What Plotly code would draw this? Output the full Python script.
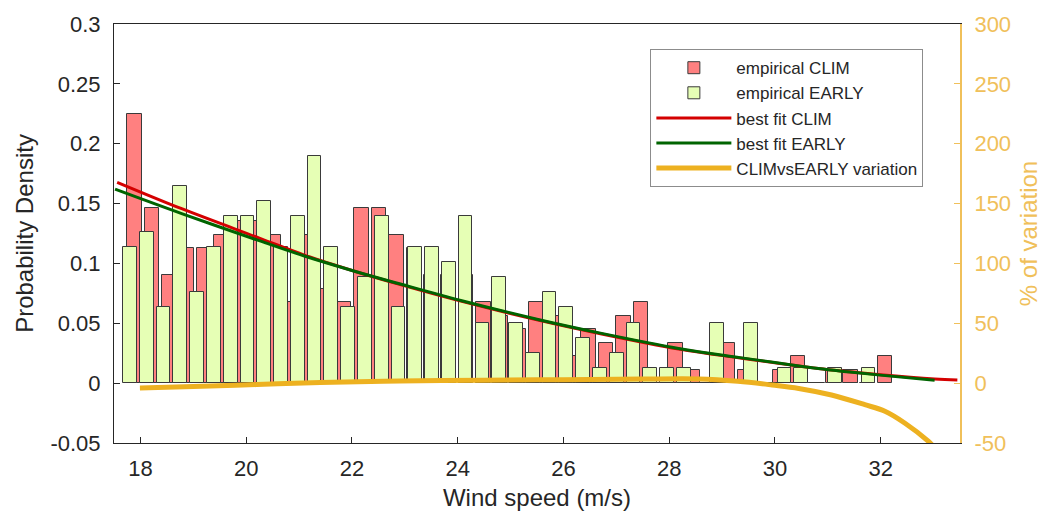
import numpy as np
import plotly.graph_objects as go

# Empirical densities (histograms) of wind speed, CLIM and EARLY runs
clim_first_center = 17.887
clim_bin_width = 0.3302
clim_density = [0.2252, 0.1464, 0.0901, 0.1126, 0.1126, 0.1239, 0.1351, 0.1351, 0.1239, 0.0676,
                0.1239, 0.0788, 0.0676, 0.1464, 0.1464, 0.1239, 0.1126, 0.0901, 0.0901, 0.0901,
                0.0676, 0.0563, 0.0450, 0.0676, 0.0563, 0.0225, 0.0450, 0.0338, 0.0563, 0.0676,
                0.0, 0.0338, 0.0113, 0.0, 0.0338, 0.0113, 0.0, 0.0113, 0.0225, 0.0,
                0.0113, 0.0113, 0.0, 0.0225]

early_first_center = 17.802
early_bin_width = 0.3174
early_density = [0.1139, 0.1266, 0.0633, 0.1646, 0.0760, 0.1139, 0.1393, 0.1393, 0.1519, 0.1139,
                 0.1393, 0.1899, 0.1139, 0.0633, 0.0886, 0.1393, 0.0633, 0.1139, 0.1139, 0.1013,
                 0.1393, 0.0506, 0.0886, 0.0506, 0.0253, 0.0760, 0.0633, 0.0380, 0.0127, 0.0253,
                 0.0506, 0.0127, 0.0127, 0.0127, 0.0, 0.0506, 0.0, 0.0506, 0.0, 0.0127,
                 0.0127, 0.0, 0.0127, 0.0, 0.0127]

clim_centers = clim_first_center + clim_bin_width * np.arange(len(clim_density))
early_centers = early_first_center + early_bin_width * np.arange(len(early_density))

# Best-fit density curves
fit_clim_x = [17.56, 18.78, 20.26, 21.10, 22.05, 22.90, 24.06, 25.54, 26.70, 28.18, 29.34, 30.82, 31.35, 31.99, 33.02, 33.45]
fit_clim_y = [0.1678, 0.1457, 0.1210, 0.1070, 0.0935, 0.0825, 0.0685, 0.0525, 0.0413, 0.0285, 0.0210, 0.0122, 0.0097, 0.0070, 0.0035, 0.0026]
fit_early_x = [17.52, 18.78, 20.26, 21.10, 22.05, 22.90, 24.06, 25.54, 26.70, 28.18, 29.34, 30.82, 31.35, 31.99, 33.02]
fit_early_y = [0.1620, 0.1416, 0.1188, 0.1062, 0.0935, 0.0830, 0.0690, 0.0530, 0.0418, 0.0290, 0.0213, 0.0122, 0.0096, 0.0067, 0.0025]

# Relative variation CLIM vs EARLY (%)
var_x = [17.99, 19.0, 20.2, 21.4, 22.9, 24.5, 26.0, 27.5, 28.56, 29.3, 29.95, 30.45, 31.07, 31.70, 32.08, 32.46, 32.90, 33.0]
var_pct = [-4.0, -2.8, -1.2, 0.6, 1.8, 2.5, 2.9, 3.4, 3.5, 1.5, -1.6, -4.4, -9.9, -18.0, -23.5, -33.5, -48.5, -53.0]

x_ticks = [18, 20, 22, 24, 26, 28, 30, 32]
y_ticks = [-0.05, 0, 0.05, 0.1, 0.15, 0.2, 0.25, 0.3]
y_ticktext = ['-0.05', '0', '0.05', '0.1', '0.15', '0.2', '0.25', '0.3']
y2_ticks = [-50, 0, 50, 100, 150, 200, 250, 300]
y2_ticktext = ['-50', '0', '50', '100', '150', '200', '250', '300']

AX = '#262626'
ORANGE = '#EDB120'
ORANGE_TXT = '#F0C05A'
FONT = 'Liberation Sans, Arial, Helvetica, sans-serif'

fig = go.Figure()
fig.add_trace(go.Bar(x=clim_centers, y=clim_density, width=0.275, name='empirical CLIM',
                     marker=dict(color='#FF8080', line=dict(color='#3a3a3a', width=1)),
                     legendgroup='a'))
fig.add_trace(go.Bar(x=early_centers, y=early_density, width=0.26, name='empirical EARLY',
                     marker=dict(color='#E6FFB5', line=dict(color='#3a3a3a', width=1)),
                     legendgroup='b'))
fig.add_trace(go.Scatter(x=fit_clim_x, y=fit_clim_y, mode='lines', name='best fit CLIM',
                         line=dict(color='#D40000', width=3, shape='spline', smoothing=1.0),
                         legendgroup='c'))
fig.add_trace(go.Scatter(x=fit_early_x, y=fit_early_y, mode='lines', name='best fit EARLY',
                         line=dict(color='#006400', width=3, shape='spline', smoothing=1.0),
                         legendgroup='d'))
fig.add_trace(go.Scatter(x=var_x, y=var_pct, mode='lines', name='CLIMvsEARLY variation',
                         line=dict(color=ORANGE, width=5, shape='spline'), yaxis='y2',
                         legendgroup='e'))

fig.update_layout(
    width=1054, height=525,
    margin=dict(l=114, r=94, t=20, b=82),
    plot_bgcolor='white', paper_bgcolor='white',
    barmode='overlay', bargap=0,
    font=dict(family=FONT, size=22, color=AX),
    showlegend=True,
    legend=dict(x=0.634, y=0.94, xanchor='left', yanchor='top',
                bgcolor='white', bordercolor='#8c8c8c', borderwidth=1,
                font=dict(family=FONT, size=17, color=AX),
                itemwidth=75, tracegroupgap=3, traceorder='normal'),
    xaxis=dict(range=[17.5, 33.5], tickvals=x_ticks, ticks='inside', ticklen=6,
               tickcolor=AX, showline=True, linecolor=AX, linewidth=1, mirror=True,
               showgrid=False, zeroline=False, ticklabelstandoff=6,
               title=dict(text='Wind speed (m/s)', font=dict(size=24), standoff=8)),
    yaxis=dict(range=[-0.05, 0.3], tickvals=y_ticks, ticktext=y_ticktext, ticks='inside',
               ticklen=6, tickcolor=AX, showline=True, linecolor=AX, linewidth=1,
               showgrid=False, zeroline=False, ticklabelstandoff=8,
               title=dict(text='Probability Density', font=dict(size=24), standoff=10)),
    yaxis2=dict(range=[-50, 300], overlaying='y', side='right', tickvals=y2_ticks,
                ticktext=y2_ticktext, ticks='inside', ticklen=6, tickcolor=ORANGE_TXT,
                showline=True, linecolor=ORANGE_TXT, linewidth=2, showgrid=False,
                zeroline=False, tickfont=dict(color=ORANGE_TXT), ticklabelstandoff=8,
                title=dict(text='% of variation', font=dict(size=24, color=ORANGE_TXT), standoff=10)),
)

fig.write_html('out.html')
